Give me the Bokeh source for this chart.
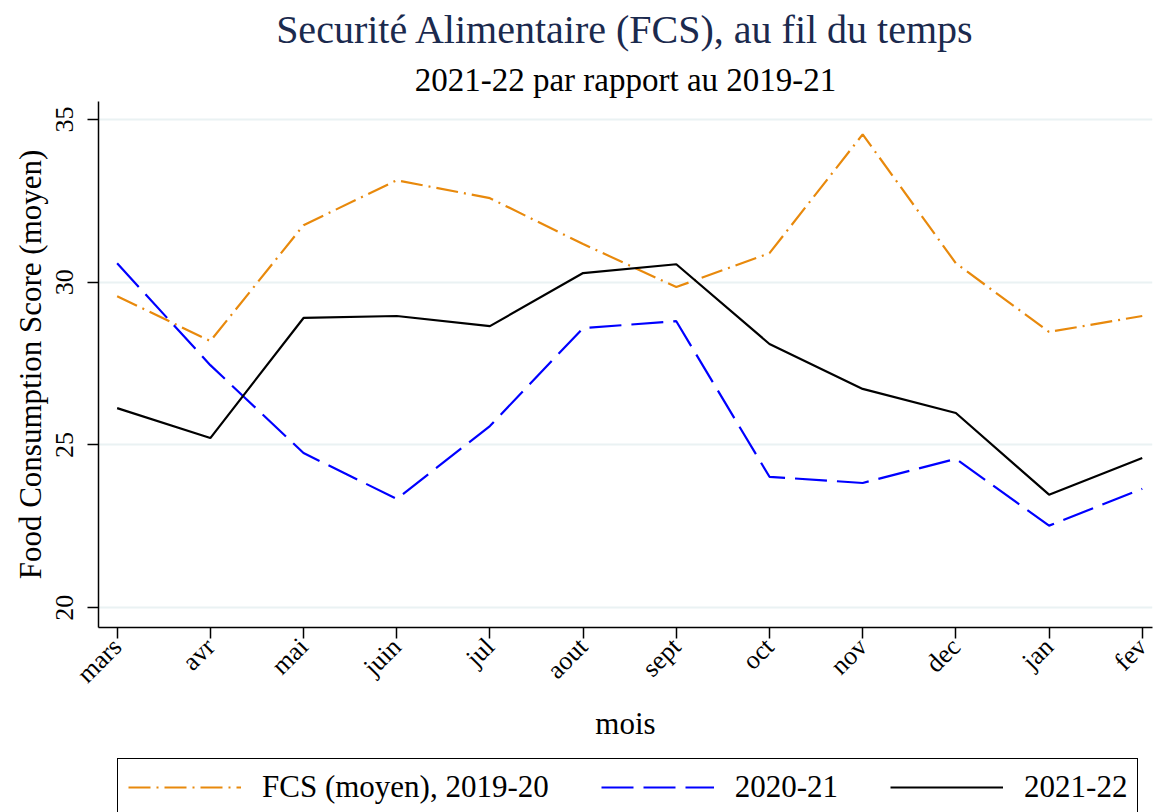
from math import pi
from bokeh.plotting import figure
from bokeh.layouts import column
from bokeh.models import Range1d, FixedTicker, Legend, LegendItem, Title
from bokeh.embed import file_html
from bokeh.resources import INLINE

months = ["mars", "avr", "mai", "juin", "jul", "aout", "sept", "oct", "nov", "dec", "jan", "fev"]
fcs_2019_20 = [29.57, 28.19, 31.75, 33.13, 32.58, 31.17, 29.85, 30.89, 34.54, 30.58, 28.47, 28.96]
fcs_2020_21 = [30.58, 27.45, 24.75, 23.34, 25.58, 28.59, 28.80, 24.02, 23.83, 24.57, 22.52, 23.65]
fcs_2021_22 = [26.13, 25.21, 28.90, 28.96, 28.65, 30.28, 30.55, 28.10, 26.72, 25.98, 23.47, 24.60]
y_ticks = [20, 25, 30, 35]
series_labels = ["FCS (moyen), 2019-20", "2020-21", "2021-22"]

FONT = "Liberation Serif"
x = list(range(len(months)))
styles = [dict(line_color="#E8890C", line_width=2.2, line_dash="22 6 2 6"),
          dict(line_color="#0000FF", line_width=2.2, line_dash="32 10"),
          dict(line_color="black", line_width=2.2)]
series = [fcs_2019_20, fcs_2020_21, fcs_2021_22]

p = figure(width=1154, height=757, output_backend="svg", toolbar_location=None,
           x_range=Range1d(-0.2, 11.11), y_range=Range1d(19.39, 35.55),
           min_border_left=98, min_border_right=2, min_border_top=100, min_border_bottom=130,
           title=None)
p.outline_line_color = None
p.background_fill_color = "white"
p.border_fill_color = "white"

for ys, st in zip(series, styles):
    p.line(x, ys, **st)

# axes
p.xaxis.ticker = FixedTicker(ticks=x)
p.xaxis.major_label_overrides = {i: m for i, m in enumerate(months)}
p.xaxis.major_label_orientation = pi / 4
p.xaxis.axis_label = "mois"
p.yaxis.ticker = FixedTicker(ticks=y_ticks)
p.yaxis.major_label_orientation = "vertical"
p.yaxis.axis_label = "Food Consumption Score (moyen)"
for ax in (p.xaxis[0], p.yaxis[0]):
    ax.major_label_text_font = FONT
    ax.major_label_text_font_size = "26px"
    ax.major_label_text_color = "black"
    ax.axis_label_text_font = FONT
    ax.axis_label_text_font_size = "31px"
    ax.axis_label_text_font_style = "normal"
    ax.axis_label_text_color = "black"
    ax.axis_line_color = "black"
    ax.axis_line_width = 1.5
    ax.major_tick_line_color = "black"
    ax.major_tick_line_width = 1.5
    ax.major_tick_out = 11
    ax.major_tick_in = 0
    ax.minor_tick_line_color = None
p.yaxis.major_label_standoff = 14
p.yaxis.axis_label_standoff = 6
p.xaxis.major_label_standoff = 4
p.xaxis.axis_label_standoff = 4

p.xgrid.grid_line_color = None
p.ygrid.grid_line_color = "#EAF2F3"
p.ygrid.grid_line_width = 2

# titles
sub = Title(text="2021-22 par rapport au 2019-21", align="center", text_font=FONT,
            text_font_size="33px", text_font_style="normal", text_color="black", standoff=7)
main = Title(text="Securité Alimentaire (FCS), au fil du temps", align="center", text_font=FONT,
             text_font_size="40px", text_font_style="normal", text_color="#1B2A4E", standoff=9)
p.add_layout(sub, "above")
p.add_layout(main, "above")

# legend strip (its lines use the same data, out of the strip's visible range)
lf = figure(width=1154, height=55, output_backend="svg", toolbar_location=None,
            x_range=Range1d(-0.2, 11.11), y_range=Range1d(0, 1),
            x_axis_type=None, y_axis_type=None, title=None,
            min_border_left=0, min_border_right=0, min_border_top=0, min_border_bottom=0)
lf.outline_line_color = None
lf.xgrid.grid_line_color = None
lf.ygrid.grid_line_color = None
lrs = [lf.line(x, ys, **st) for ys, st in zip(series, styles)]

legend = Legend(items=[LegendItem(label=lab, renderers=[r]) for lab, r in zip(series_labels, lrs)],
                orientation="horizontal", location=(19, -4),
                glyph_width=113, glyph_height=20, label_standoff=21, spacing=52,
                padding=10, margin=0,
                label_text_font=FONT, label_text_font_size="31px", label_text_color="black",
                border_line_color="black", border_line_width=1.5, border_line_alpha=1,
                background_fill_alpha=1)
lf.add_layout(legend, "center")

layout = column(p, lf, spacing=0)
open("out.html", "w").write(file_html(layout, INLINE))
